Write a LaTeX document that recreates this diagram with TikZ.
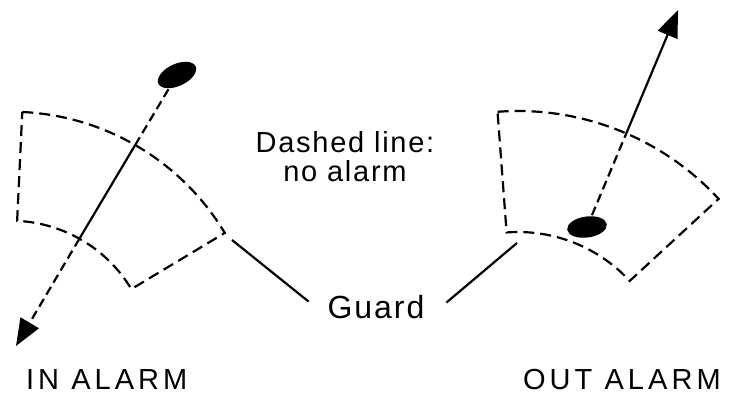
\documentclass[tikz,border=0pt]{standalone}
\usepackage{fontspec}
\setmainfont{Liberation Sans}
\newfontfamily\notefont[LetterSpace=6]{Liberation Sans}
\newfontfamily\alarmfont[LetterSpace=14]{Liberation Sans}
\usetikzlibrary{arrows.meta,shapes.geometric}

\begin{document}
\begin{tikzpicture}[x=1pt,y=1pt,line width=2.2pt,
  zone/.style={dash pattern=on 11pt off 6pt},
  trail/.style={dash pattern=on 9pt off 5pt},
  tag/.style={ellipse,fill=black,inner sep=0pt,minimum width=41pt,minimum height=22pt},
  tip/.style={-{Triangle[length=27pt,width=21pt]}},
  lbl/.style={inner sep=0pt,font=\alarmfont\fontsize{29}{29}\selectfont}]
  \useasboundingbox (0,0) rectangle (729,-396);

  % guard zones
  \draw[zone,shift={(10.5,-361.7)}] (87.3:250) arc[start angle=87.3,end angle=31,radius=250]
    -- (31:141) arc[start angle=31,end angle=87.3,radius=141] -- cycle;
  \draw[zone,shift={(518,-384)}] (94.3:273) arc[start angle=94.3,end angle=42.7,radius=273]
    -- (42.7:152) arc[start angle=42.7,end angle=94.3,radius=152] -- cycle;

  % targets
  \node[tag,rotate=25] (ltag) at (177,-75) {};
  \node[tag,rotate=8,minimum width=40pt,minimum height=21pt] (rtag) at (587,-227) {};

  \coordinate (lout) at (135.2,-145);
  \coordinate (lin) at (79.4,-238.7);
  \coordinate (ltip) at (16,-346);
  \coordinate (rout) at (626.3,-133.4);
  \coordinate (rtip) at (678,-10);

  % crossing in
  \draw[trail] (ltag) -- (lout);
  \draw (lout) -- (lin);
  \draw[trail,tip] (lin) -- (ltip);

  % crossing out
  \draw[trail] (rtag) -- (rout);
  \draw[tip] (rout) -- (rtip);

  % labels
  \node[inner sep=0pt,align=center,font=\notefont\fontsize{29}{29}\selectfont] (note) at (345,-157) {Dashed line:\\no alarm};
  \node[inner sep=0pt,anchor=base,font=\notefont\fontsize{32}{32}\selectfont] (guard) at (376,-318) {Guard};
  \node[lbl,anchor=base west] (inlbl) at (25,-389) {IN ALARM};
  \node[lbl,anchor=base west] (outlbl) at (522,-389) {OUT ALARM};

  \coordinate (lgd) at (232,-240);
  \coordinate (rgd) at (517,-243);
  \draw (lgd) -- ([xshift=-18pt,yshift=5pt]guard.west);
  \draw (rgd) -- ([xshift=21pt,yshift=4pt]guard.east);
\end{tikzpicture}
\end{document}
